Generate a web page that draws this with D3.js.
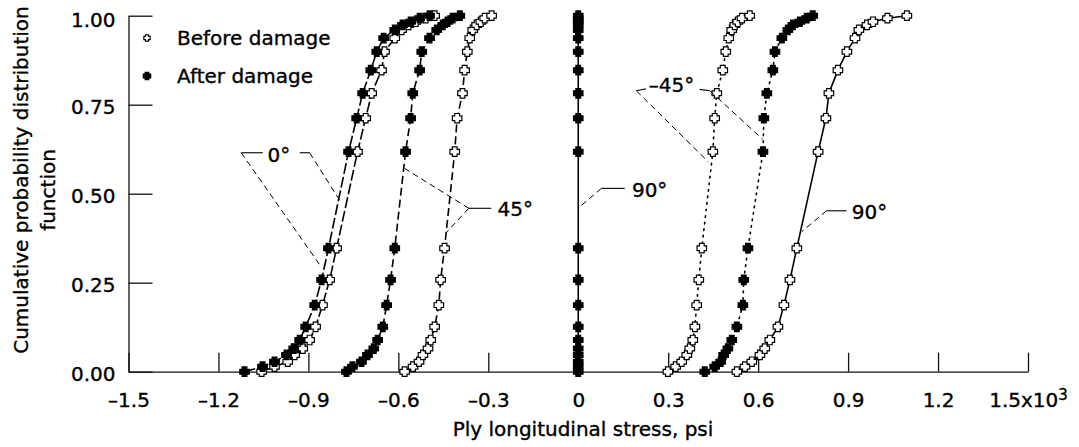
<!DOCTYPE html>
<html>
<head>
<meta charset="utf-8">
<script src="https://cdn.jsdelivr.net/npm/d3@7"></script>
<style>
  body { margin: 0; background: #fff; }
  svg text { font-family: "DejaVu Sans", sans-serif; fill: #000; stroke: #000; stroke-width: 0.35px; }
</style>
</head>
<body>
<div id="chart"></div>
<script>
// probability levels shared by every curve
const cdfLevels = [0, 0.014, 0.028, 0.047, 0.065, 0.089, 0.126, 0.187, 0.258, 0.347,
  0.618, 0.712, 0.782, 0.847, 0.899, 0.937, 0.96, 0.974, 0.983, 0.993, 1.0];

// ply longitudinal stress (x10^3 psi) at each level
const after0 = [-1.113, -1.053, -1.013, -0.973, -0.949, -0.929, -0.909, -0.879, -0.856, -0.833,
  -0.766, -0.739, -0.719, -0.692, -0.672, -0.649, -0.612, -0.586, -0.559, -0.529, -0.496];
const before0 = [-1.056, -1.013, -0.969, -0.946, -0.919, -0.896, -0.876, -0.853, -0.829, -0.806,
  -0.736, -0.709, -0.689, -0.656, -0.646, -0.612, -0.589, -0.566, -0.542, -0.509, -0.479];
const after45 = [-0.773, -0.753, -0.723, -0.703, -0.682, -0.669, -0.652, -0.639, -0.626, -0.612,
  -0.576, -0.559, -0.552, -0.529, -0.522, -0.496, -0.472, -0.452, -0.436, -0.419, -0.395];
const before45 = [-0.579, -0.551, -0.531, -0.518, -0.501, -0.492, -0.479, -0.465, -0.459, -0.446,
  -0.412, -0.404, -0.386, -0.379, -0.370, -0.362, -0.352, -0.339, -0.325, -0.312, -0.289];
const after90 = [0, 0, 0, 0, 0, 0, 0, 0, 0, 0, 0, 0, 0, 0, 0, 0, 0, 0, 0, 0, 0];
const beforeM45 = [0.299, 0.325, 0.345, 0.362, 0.372, 0.382, 0.389, 0.395, 0.402, 0.412,
  0.449, 0.455, 0.462, 0.482, 0.492, 0.502, 0.512, 0.522, 0.532, 0.546, 0.572];
const afterM45 = [0.422, 0.455, 0.475, 0.485, 0.499, 0.512, 0.529, 0.549, 0.552, 0.566,
  0.616, 0.619, 0.629, 0.649, 0.656, 0.679, 0.699, 0.716, 0.739, 0.762, 0.782];
const before90 = [0.529, 0.556, 0.579, 0.606, 0.622, 0.639, 0.666, 0.686, 0.706, 0.729,
  0.800, 0.826, 0.836, 0.866, 0.896, 0.923, 0.936, 0.963, 0.983, 1.031, 1.096];

const xTicks = [-1.5, -1.2, -0.9, -0.6, -0.3, 0, 0.3, 0.6, 0.9, 1.2, 1.5];
const xTickLabels = ["\u20131.5", "\u20131.2", "\u20130.9", "\u20130.6", "\u20130.3", "0", "0.3", "0.6", "0.9", "1.2", "1.5x10"];
const yTicks = [0, 0.25, 0.5, 0.75, 1];
const yTickLabels = ["0.00", "0.25", "0.50", "0.75", "1.00"];

const WIDTH = 1079, HEIGHT = 447;
const X0 = 128.5, X1 = 1028, Y0 = 371.7, Y1 = 15.7;

const series = [
  { values: before0, filled: false, dash: "11,3" },
  { values: after0, filled: true, dash: "11,3" },
  { values: before45, filled: false, dash: "8,4" },
  { values: after45, filled: true, dash: "8,4" },
  { values: after90, filled: true, dash: null },
  { values: beforeM45, filled: false, dash: "1.6,5" },
  { values: afterM45, filled: true, dash: "1.6,5" },
  { values: before90, filled: false, dash: null }
];

const svg = d3.select('#chart').append('svg')
  .attr('width', WIDTH)
  .attr('height', HEIGHT);

const x = d3.scaleLinear().domain([-1.5, 1.5]).range([X0, X1]);
const y = d3.scaleLinear().domain([0, 1]).range([Y0, Y1]);

// axes
const xAxis = svg.append('g')
  .attr('transform', `translate(0, ${Y0})`)
  .call(d3.axisBottom(x).tickValues(xTicks)
    .tickFormat((d, i) => xTickLabels[i])
    .tickSize(-19).tickSizeOuter(0).tickPadding(21));
const yAxis = svg.append('g')
  .attr('transform', `translate(${X0}, 0)`)
  .call(d3.axisLeft(y).tickValues(yTicks)
    .tickFormat((d, i) => yTickLabels[i])
    .tickSize(-24).tickSizeOuter(0).tickPadding(13));

[xAxis, yAxis].forEach(g => {
  g.select('.domain').attr('stroke', '#111').attr('stroke-width', 1.3);
  g.selectAll('.tick line').attr('stroke', '#111').attr('stroke-width', 1.3);
  g.selectAll('text').attr('font-size', 20).attr('font-family', '"DejaVu Sans", sans-serif').attr('fill', '#000');
});
yAxis.selectAll('text').attr('dy', d => d === 1 ? '0.55em' : '0.42em');
xAxis.selectAll('.tick').filter(d => d === 1.5).select('text')
  .append('tspan').attr('dy', '-0.45em').attr('font-size', 15).text('3');

// axis titles
svg.append('text')
  .attr('x', 583).attr('y', 436)
  .attr('text-anchor', 'middle').attr('font-size', 20)
  .text('Ply longitudinal stress, psi');
svg.append('text')
  .attr('transform', 'translate(28, 180) rotate(-90)')
  .attr('text-anchor', 'middle').attr('font-size', 20)
  .text('Cumulative probability distribution');
svg.append('text')
  .attr('transform', 'translate(55, 190) rotate(-90)')
  .attr('text-anchor', 'middle').attr('font-size', 20)
  .text('function');

// fat plus marker
const plus = {
  draw(ctx, size) {
    const h = Math.sqrt(size) / 2, a = h * 0.5;
    ctx.moveTo(-a, -h); ctx.lineTo(a, -h); ctx.lineTo(a, -a); ctx.lineTo(h, -a);
    ctx.lineTo(h, a); ctx.lineTo(a, a); ctx.lineTo(a, h); ctx.lineTo(-a, h);
    ctx.lineTo(-a, a); ctx.lineTo(-h, a); ctx.lineTo(-h, -a); ctx.lineTo(-a, -a);
    ctx.closePath();
  }
};
const marker = d3.symbol().type(plus).size(90);

const line = d3.line()
  .x((d, i) => x(d))
  .y((d, i) => y(cdfLevels[i]));

// curves
series.forEach(s => {
  svg.append('path')
    .attr('d', line(s.values))
    .attr('fill', 'none')
    .attr('stroke', '#000')
    .attr('stroke-width', 1.6)
    .attr('stroke-linecap', s.dash && s.dash.startsWith('1.6') ? 'round' : 'butt')
    .attr('stroke-dasharray', s.dash);
});

// markers, open first then filled on top
series.filter(s => !s.filled).concat(series.filter(s => s.filled)).forEach(s => {
  svg.append('g').selectAll('path').data(s.values).enter().append('path')
    .attr('d', marker)
    .attr('transform', (d, i) => `translate(${x(d)}, ${y(cdfLevels[i])})`)
    .attr('fill', s.filled ? '#000' : '#fff')
    .attr('stroke', '#000')
    .attr('stroke-width', 1.2);
});

// legend
const legend = svg.append('g');
const legendItems = [
  { label: 'Before damage', filled: false, cy: 38 },
  { label: 'After damage', filled: true, cy: 76 }
];
legendItems.forEach(l => {
  legend.append('path')
    .attr('d', d3.symbol().type(plus).size(l.filled ? 56 : 40))
    .attr('transform', `translate(147, ${l.cy})`)
    .attr('fill', l.filled ? '#000' : '#fff')
    .attr('stroke', '#000').attr('stroke-width', 1.1);
  legend.append('text')
    .attr('x', 177).attr('y', l.cy).attr('dy', '0.36em')
    .attr('font-size', 20)
    .text(l.label);
});

// curve labels with leader lines (stress, cdf coordinates)
const annotations = [
  { text: '0\u00b0', tx: -1.036, ty: 0.608,
    stubs: [[-1.124, 0.615, -1.052, 0.615], [-0.929, 0.615, -0.896, 0.615]],
    leaders: [[-1.124, 0.615, -0.857, 0.294], [-0.896, 0.615, -0.796, 0.482]] },
  { text: '45\u00b0', tx: -0.269, ty: 0.457,
    stubs: [[-0.365, 0.459, -0.290, 0.459]],
    leaders: [[-0.365, 0.459, -0.579, 0.571], [-0.365, 0.459, -0.442, 0.389]] },
  { text: '90\u00b0', tx: 0.179, ty: 0.510,
    stubs: [[0.077, 0.515, 0.155, 0.515]],
    leaders: [[0.077, 0.515, 0.005, 0.463]] },
  { text: '\u201345\u00b0', tx: 0.235, ty: 0.805,
    stubs: [[0.194, 0.789, 0.226, 0.795], [0.405, 0.793, 0.439, 0.789]],
    leaders: [[0.194, 0.789, 0.433, 0.590], [0.439, 0.789, 0.615, 0.653]] },
  { text: '90\u00b0', tx: 0.912, ty: 0.449,
    stubs: [[0.828, 0.452, 0.895, 0.452]],
    leaders: [[0.828, 0.452, 0.745, 0.393]] }
];
const notes = svg.append('g');
annotations.forEach(a => {
  a.stubs.forEach(s => notes.append('line')
    .attr('x1', x(s[0])).attr('y1', y(s[1])).attr('x2', x(s[2])).attr('y2', y(s[3]))
    .attr('stroke', '#000').attr('stroke-width', 1.1));
  a.leaders.forEach(s => notes.append('line')
    .attr('x1', x(s[0])).attr('y1', y(s[1])).attr('x2', x(s[2])).attr('y2', y(s[3]))
    .attr('stroke', '#000').attr('stroke-width', 1).attr('stroke-dasharray', '6,4'));
  notes.append('text')
    .attr('x', x(a.tx)).attr('y', y(a.ty)).attr('dy', '0.36em')
    .attr('font-size', 20)
    .text(a.text);
});
</script>
</body>
</html>
